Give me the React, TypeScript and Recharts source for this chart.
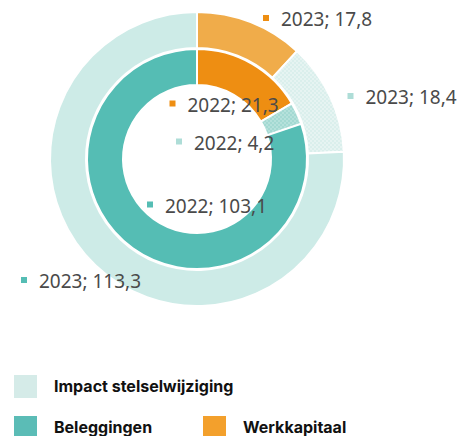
import React from 'react';
import { PieChart, Pie, Cell, Legend } from 'recharts';

const categories = ['Werkkapitaal', 'Impact stelselwijziging', 'Beleggingen'];
const values2022 = [21.3, 4.2, 103.1];
const values2023 = [17.8, 18.4, 113.3];
const years = ['2022', '2023'];
const legendOrder = ['Impact stelselwijziging', 'Beleggingen', 'Werkkapitaal'];

const data2022 = categories.map((name, i) => ({ name, value: values2022[i] }));
const data2023 = categories.map((name, i) => ({ name, value: values2023[i] }));

const innerFills = ['#EE8E12', 'url(#dotsInner)', '#55BDB4'];
const outerFills = ['#F0AC4A', 'url(#dotsOuter)', '#CDEBE7'];
const markerInner = ['#EE8E12', '#AEDDD7', '#55BDB4'];
const markerOuter = ['#EE8E12', '#AEDDD7', '#55BDB4'];
const legendColors: Record<string, string> = {
  'Impact stelselwijziging': '#D5EBE8',
  Beleggingen: '#5BBCB6',
  Werkkapitaal: '#F3A02C',
};

// label anchor offsets from pie centre (layout only)
const innerLabelOffsets = [
  [-24.5, -55.5],
  [-18, -17.5],
  [-47, 45.5],
];
const outerLabelOffsets = [
  [69, -141],
  [153.5, -63],
  [-173, 121],
];

const fmt = (v: number) => v.toString().replace('.', ',');

const makeLabel = (year: string, offsets: number[][], markers: string[]) => (props: any) => {
  const { cx, cy, index, value } = props;
  const [dx, dy] = offsets[index];
  const x = cx + dx;
  const y = cy + dy;
  return (
    <g key={`lbl-${year}-${index}`}>
      <rect x={x - 3} y={y - 3} width={6} height={6} fill={markers[index]} />
      <text
        x={x + 15}
        y={y + 1}
        dominantBaseline="central"
        fontFamily="'Noto Sans', sans-serif"
        fontSize={19}
        fill="#4a4a4a"
      >
        {`${year}; ${fmt(value)}`}
      </text>
    </g>
  );
};

const CustomLegend = () => (
  <div style={{ position: 'relative', width: 461, height: 70, fontFamily: 'Inter, sans-serif', fontWeight: 700, fontSize: 16, color: '#111' }}>
    {legendOrder.map((name, i) => {
      const row = i === 0 ? 0 : 1;
      const col = i === 2 ? 1 : 0;
      const left = col === 0 ? 14 : 203;
      const top = row === 0 ? 8 : 49;
      return (
        <div key={name} style={{ position: 'absolute', left, top, display: 'flex', alignItems: 'center' }}>
          <div style={{ width: 23, height: 23, background: legendColors[name] }} />
          <span style={{ marginLeft: 17, lineHeight: '23px' }}>{name}</span>
        </div>
      );
    })}
  </div>
);

export default function App() {
  return (
    <div style={{ position: 'absolute', left: 0, top: 0, width: 461, height: 436, background: '#fff' }}>
      <PieChart width={461} height={436} margin={{ top: 0, right: 0, bottom: 0, left: 0 }}>
        <defs>
          <pattern id="dotsOuter" width="4" height="4" patternUnits="userSpaceOnUse">
            <rect width="4" height="4" fill="#E6F4F2" />
            <rect width="2" height="2" fill="#DAEFEC" />
            <rect x="2" y="2" width="2" height="2" fill="#DAEFEC" />
          </pattern>
          <pattern id="dotsInner" width="4" height="4" patternUnits="userSpaceOnUse">
            <rect width="4" height="4" fill="#B5E1DB" />
            <rect width="2" height="2" fill="#A3D9D2" />
            <rect x="2" y="2" width="2" height="2" fill="#A3D9D2" />
          </pattern>
        </defs>
        <Pie
          data={data2022}
          dataKey="value"
          nameKey="name"
          cx={197}
          cy={159}
          innerRadius={74}
          outerRadius={110}
          startAngle={90}
          endAngle={-270}
          stroke="#fff"
          strokeWidth={2}
          isAnimationActive={false}
          labelLine={false}
          label={makeLabel(years[0], innerLabelOffsets, markerInner)}
        >
          {data2022.map((d, i) => (
            <Cell key={d.name} fill={innerFills[i]} />
          ))}
        </Pie>
        <Pie
          data={data2023}
          dataKey="value"
          nameKey="name"
          cx={197}
          cy={159}
          innerRadius={111}
          outerRadius={147}
          startAngle={90}
          endAngle={-270}
          stroke="#fff"
          strokeWidth={2}
          isAnimationActive={false}
          labelLine={false}
          label={makeLabel(years[1], outerLabelOffsets, markerOuter)}
        >
          {data2023.map((d, i) => (
            <Cell key={d.name} fill={outerFills[i]} />
          ))}
        </Pie>
        <Legend
          content={() => <CustomLegend />}
          wrapperStyle={{ position: 'absolute', left: 0, top: 367, width: 461, height: 70 }}
        />
      </PieChart>
    </div>
  );
}
